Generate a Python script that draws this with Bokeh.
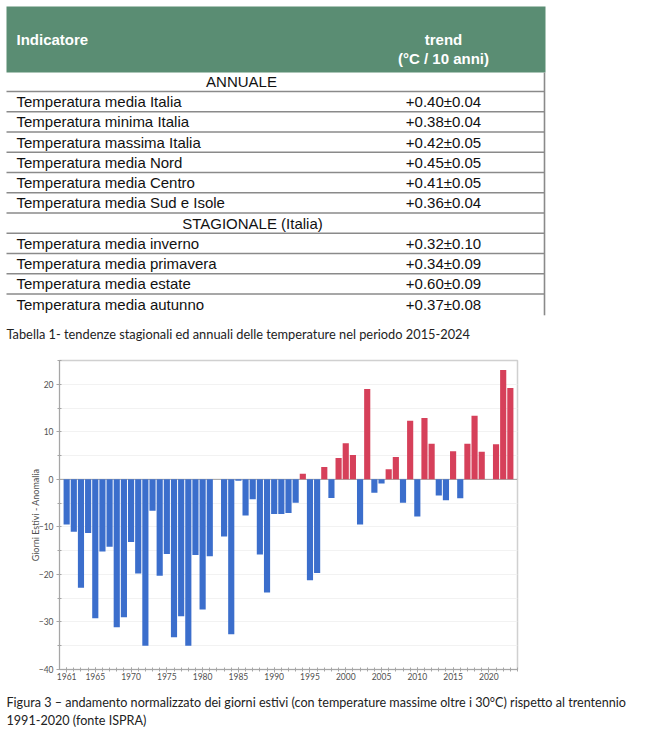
from bokeh.plotting import figure
from bokeh.layouts import column
from bokeh.models import Range1d, FixedTicker, Span
from bokeh.embed import file_html
from bokeh.resources import INLINE
from bokeh.core.properties import value

# ---------------- data ----------------
header_left = "Indicatore"
header_right = ["trend", "(°C / 10 anni)"]
section_annual = "ANNUALE"
section_season = "STAGIONALE (Italia)"
annual_indicators = [
    "Temperatura media Italia",
    "Temperatura minima Italia",
    "Temperatura massima Italia",
    "Temperatura media Nord",
    "Temperatura media Centro",
    "Temperatura media Sud e Isole",
]
annual_trends = ["+0.40±0.04", "+0.38±0.04", "+0.42±0.05", "+0.45±0.05", "+0.41±0.05", "+0.36±0.04"]
season_indicators = [
    "Temperatura media inverno",
    "Temperatura media primavera",
    "Temperatura media estate",
    "Temperatura media autunno",
]
season_trends = ["+0.32±0.10", "+0.34±0.09", "+0.60±0.09", "+0.37±0.08"]
caption_table = "Tabella 1-  tendenze stagionali ed annuali delle temperature nel periodo 2015-2024"
caption_fig = ["Figura 3 – andamento normalizzato dei giorni estivi (con temperature massime oltre i 30°C)  rispetto al trentennio",
               "1991-2020 (fonte ISPRA)"]

years = list(range(1961, 2024))
anomalies = [
    -9.5, -11.0, -22.8, -11.3, -29.2, -15.2, -14.2, -31.1, -29.0, -13.2,   # 1961-1970
    -19.8, -35.0, -6.6, -20.3, -15.7, -33.2, -28.8, -35.0, -15.9, -27.4,   # 1971-1980
    -16.2, 0.0, -12.0, -32.6, -0.3, -7.6, -4.2, -15.8, -23.8, -7.3,        # 1981-1990
    -7.3, -7.1, -4.9, 1.2, -21.2, -19.7, 2.6, -3.9, 4.5, 7.6,              # 1991-2000
    5.1, -9.5, 19.0, -2.8, -0.9, 2.1, 4.7, -4.9, 12.3, -7.8,               # 2001-2010
    12.9, 7.5, -3.4, -4.4, 5.9, -4.0, 7.5, 13.4, 5.8, 0.0,                 # 2011-2020
    7.4, 23.0, 19.2,                                                       # 2021-2023
]
x_major = [1961, 1965, 1970, 1975, 1980, 1985, 1990, 1995, 2000, 2005, 2010, 2015, 2020]
y_major = [-40, -30, -20, -10, 0, 10, 20]
y_minor = [-35, -25, -15, -5, 5, 15, 25]
y_axis_label = "Giorni Estivi - Anomalia"

# ---------------- styles ----------------
W = 671
GREEN = "#5a8d73"
LINE_GRAY = "#8a8a8a"
BLUE = "#3b6ecc"
RED = "#d6405a"
TABLE_FONT = value("Liberation Sans")
CAP_FONT = value("Lato")

# ---------------- figure A : table ----------------
pa = figure(width=W, height=358, x_range=Range1d(0, W), y_range=Range1d(358, 0),
            output_backend="svg", toolbar_location=None, min_border=0,
            x_axis_location=None, y_axis_location=None)
pa.frame_align = False
pa.grid.visible = False
pa.outline_line_color = None

tbl_left, tbl_right = 6, 544
head_top, head_bot = 6, 72
row_top0, row_h = 70.8, 20.25

pa.quad(left=[tbl_left], right=[tbl_right + 1], top=[head_top], bottom=[head_bot],
        fill_color=GREEN, line_color=None)
pa.text(x=[16], y=[39], text=[header_left], text_font=TABLE_FONT, text_font_size="15px",
        text_font_style="bold", text_color="white", text_baseline="middle", text_align="left")
pa.text(x=[443, 443], y=[39, 58], text=header_right, text_font=TABLE_FONT, text_font_size="15px",
        text_font_style="bold", text_color="white", text_baseline="middle", text_align="center")

rows = [("section", section_annual, "")]
rows += [("row", n, t) for n, t in zip(annual_indicators, annual_trends)]
rows += [("section", section_season, "")]
rows += [("row", n, t) for n, t in zip(season_indicators, season_trends)]

section_cx = {section_annual: 241, section_season: 252}
nx, ny, nt, vx, vy, vt, sx, sy, st = [], [], [], [], [], [], [], [], []
for i, (kind, name, tr) in enumerate(rows):
    cy = row_top0 + row_h * i + row_h / 2
    if kind == "section":
        sx.append(section_cx[name]); sy.append(cy); st.append(name)
    else:
        nx.append(16); ny.append(cy); nt.append(name)
        vx.append(443); vy.append(cy); vt.append(tr)

line_ys = [row_top0 + row_h * (i + 1) for i in range(len(rows) - 1)]
pa.multi_line(xs=[[tbl_left, tbl_right] for _ in line_ys], ys=[[y, y] for y in line_ys],
              line_color=LINE_GRAY, line_width=1.6)
pa.line(x=[tbl_right, tbl_right], y=[head_bot, row_top0 + row_h * len(rows) + 1],
        line_color=LINE_GRAY, line_width=1.6)

pa.text(x=nx, y=ny, text=nt, text_font=TABLE_FONT, text_font_size="15px", text_color="#111111",
        text_baseline="middle", text_align="left")
pa.text(x=vx, y=vy, text=vt, text_font=TABLE_FONT, text_font_size="15px", text_color="#111111",
        text_baseline="middle", text_align="center")
pa.text(x=sx, y=sy, text=st, text_font=TABLE_FONT, text_font_size="15px", text_color="#111111",
        text_baseline="middle", text_align="center")

pa.text(x=[6], y=[333], text=[caption_table], text_font=CAP_FONT, text_font_size="12.8px",
        text_color="#222222", text_baseline="middle", text_align="left")

# ---------------- figure B : bar chart ----------------
pb = figure(width=W, height=334, x_range=Range1d(1960, 2024), y_range=Range1d(-40, 25),
            output_backend="svg", toolbar_location=None,
            min_border_left=59, min_border_right=154, min_border_top=2, min_border_bottom=23)
pb.frame_align = False
pb.outline_line_color = "#d0d0d0"
pb.outline_line_width = 1.5

colors = [BLUE if v < 0 else RED for v in anomalies]
pb.add_layout(Span(location=0, dimension="width", line_color="#a0a0a0", line_width=1, level="underlay"))
pb.vbar(x=years, top=anomalies, bottom=0, width=0.86, fill_color=colors, line_color=None)

pb.xgrid.visible = False
pb.ygrid.ticker = FixedTicker(ticks=sorted(y_major + y_minor))
pb.ygrid.grid_line_color = "#f2f2f2"

pb.xaxis.ticker = FixedTicker(ticks=x_major, minor_ticks=years + [2024])
pb.yaxis.ticker = FixedTicker(ticks=y_major, minor_ticks=y_minor)
for ax in (pb.xaxis[0], pb.yaxis[0]):
    ax.axis_line_color = "#a6a6a6"
    ax.major_tick_line_color = "#a6a6a6"
    ax.minor_tick_line_color = "#a6a6a6"
    ax.major_tick_in = 2
    ax.major_tick_out = 3
    ax.minor_tick_in = 2
    ax.minor_tick_out = 2
    ax.major_label_text_font = "Lato"
    ax.major_label_text_font_size = "8.5px"
    ax.major_label_text_color = "#505050"
pb.xaxis.major_label_standoff = 0
pb.yaxis.major_label_standoff = 3
pb.yaxis.axis_label = y_axis_label
pb.yaxis.axis_label_text_font = "Lato"
pb.yaxis.axis_label_text_font_size = "9px"
pb.yaxis.axis_label_text_font_style = "normal"
pb.yaxis.axis_label_text_color = "#505050"
pb.yaxis.axis_label_standoff = -5

# ---------------- figure C : figure caption ----------------
pc = figure(width=W, height=46, x_range=Range1d(0, W), y_range=Range1d(738, 692),
            output_backend="svg", toolbar_location=None, min_border=0,
            x_axis_location=None, y_axis_location=None)
pc.frame_align = False
pc.grid.visible = False
pc.outline_line_color = None
pc.text(x=[6, 6], y=[702, 720], text=caption_fig, text_font=CAP_FONT, text_font_size="12.6px",
        text_color="#222222", text_baseline="middle", text_align="left")

layout = column(pa, pb, pc, spacing=0)
open("out.html", "w").write(file_html(layout, INLINE))
